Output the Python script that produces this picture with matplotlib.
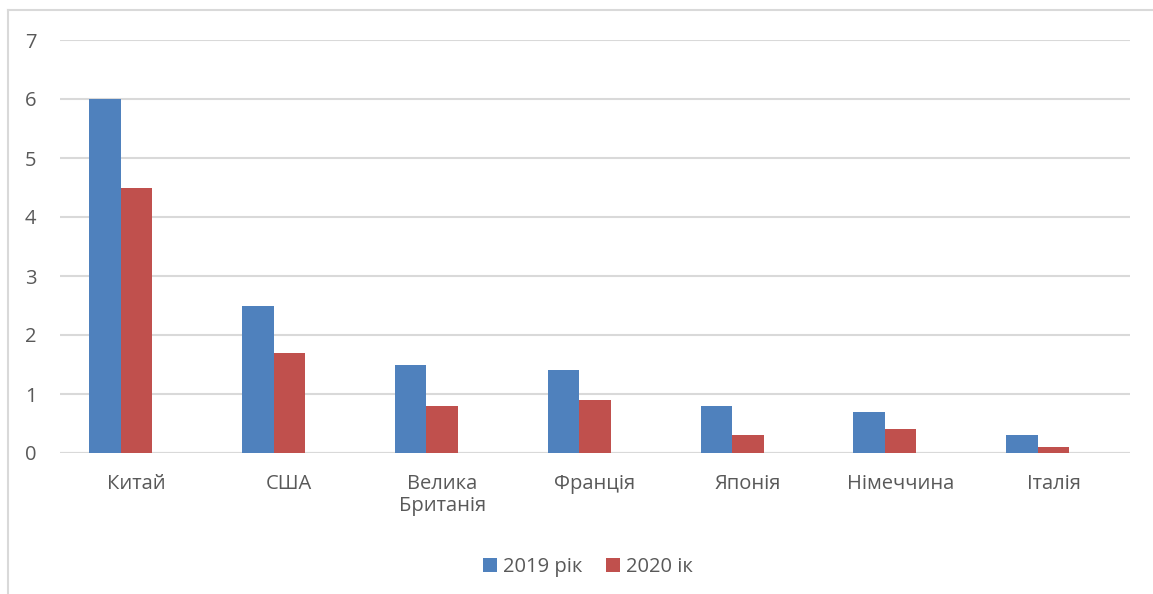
import matplotlib.pyplot as plt
from matplotlib.lines import Line2D
import numpy as np

countries = ["Китай", "США", "Велика\nБританія", "Франція", "Японія", "Німеччина", "Італія"]
values_2019 = [6, 2.5, 1.5, 1.4, 0.8, 0.7, 0.3]
values_2020 = [4.5, 1.7, 0.8, 0.9, 0.3, 0.4, 0.1]
series_names = ["2019 рік", "2020 ік"]

plt.rcParams['font.family'] = ['Open Sans', 'DejaVu Sans']
grey_text = "#595959"
grid_col = "#D9D9D9"

fig = plt.figure(figsize=(11.53, 5.94), dpi=100)
ax = fig.add_axes([60 / 1153, 1 - 453 / 594, 1070 / 1153, 413 / 594])

x = np.arange(len(countries))
w = 0.206
ax.bar(x - w, values_2019, w, color="#4F81BD", label=series_names[0], zorder=3)
ax.bar(x, values_2020, w, color="#C0504D", label=series_names[1], zorder=3)

ax.set_xlim(-0.5, len(countries) - 0.5)
ax.set_ylim(0, 7)
ax.set_yticks(range(0, 8))
ax.yaxis.grid(True, color=grid_col, linewidth=1.5, zorder=0)
for s in ax.spines.values():
    s.set_visible(False)
ax.axhline(0, color=grid_col, linewidth=1.5, zorder=2)

ax.set_xticks(x)
ax.set_xticklabels(countries, fontsize=14.5, color=grey_text, linespacing=1.15)
ax.tick_params(axis='x', length=0, pad=15)
ax.tick_params(axis='y', length=0, pad=17, labelsize=14.5, labelcolor=grey_text)

leg = fig.legend(loc='center', bbox_to_anchor=(588 / 1153, 1 - 567 / 594), ncol=2,
                 frameon=False, fontsize=14.5, handlelength=0.7, handleheight=0.7,
                 handletextpad=0.3, columnspacing=1.2)
for t in leg.get_texts():
    t.set_color(grey_text)

# chart border (only left and top edges visible)
fig.add_artist(Line2D([8 / 1153, 8 / 1153], [0, 1 - 10 / 594], color=grid_col, lw=1.5,
                      transform=fig.transFigure))
fig.add_artist(Line2D([8 / 1153, 1], [1 - 10 / 594, 1 - 10 / 594], color=grid_col, lw=1.5,
                      transform=fig.transFigure))

fig.savefig("out.png", dpi=100)
